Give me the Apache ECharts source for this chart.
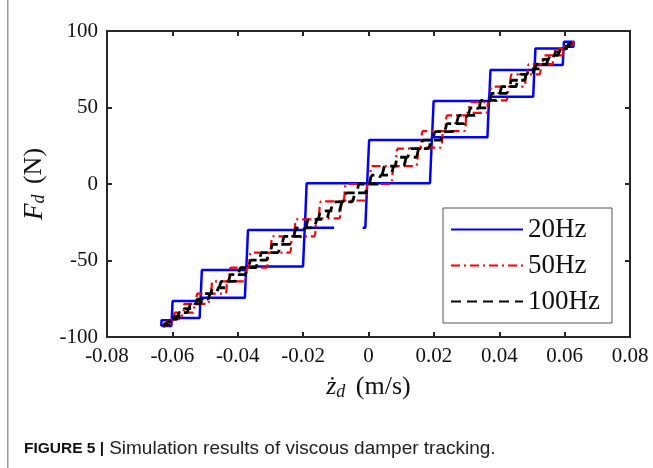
<!DOCTYPE html>
<html><head><meta charset="utf-8">
<script src="https://cdn.jsdelivr.net/npm/echarts@6/dist/echarts.min.js"></script>
<style>html,body{margin:0;padding:0;background:#fff}#c{width:653px;height:468px}</style>
</head><body><div id="c"></div>
<script>
// ---- data ----
const seriesNames = ['20Hz', '50Hz', '100Hz'];
const xRange = [-0.08, 0.08];
const yRange = [-100, 100];

// 20Hz: velocity breakpoints (m/s), force held on upper (rising) and lower (falling) branch (N)
const blueV = [-0.0634, -0.0602, -0.0514, -0.0374, -0.0195, -0.0004, 0.0194, 0.0369, 0.0508, 0.0597, 0.0628];
const blueUpper = [-89, -76.5, -56.2, -30, 0.5, 28.8, 54.2, 74.5, 88.6, 93];
const blueLower = [-92.8, -87.6, -74.3, -54, -28.6, 0.5, 30.5, 57, 77.8, 89.7];
const blueGap = [-0.0105, -0.0018];

// 50Hz
const redV = [-0.0628, -0.0627, -0.0617, -0.0597, -0.0568, -0.0530, -0.0484, -0.0430, -0.0369, -0.0303, -0.0231, -0.0156, -0.0079, 0,
  0.0079, 0.0156, 0.0231, 0.0303, 0.0369, 0.0430, 0.0484, 0.0530, 0.0568, 0.0597, 0.0617, 0.0627, 0.0628];
const redUpper = [-92.8, -91.3, -88.4, -84.1, -78.4, -71.6, -63.6, -54.6, -44.8, -34.2, -23.1, -11.4, 0,
  11.7, 23.1, 34.6, 44.8, 53.5, 63.6, 71.6, 78.4, 84.1, 88.4, 91.3, 92.8, 92.9];
const redLower = [-92.9, -92.8, -91.3, -88.4, -84.1, -78.4, -71.6, -63.6, -54.6, -44.8, -34.2, -22.5, -10.8,
  0, 11.7, 23.8, 34.6, 46.5, 54.6, 63.6, 71.6, 78.4, 84.1, 88.4, 91.3, 92.8];

// 100Hz
const blackV = [-0.0628, -0.0627, -0.0623, -0.0617, -0.0608, -0.0597, -0.0584, -0.0568, -0.0550, -0.0530, -0.0508, -0.0484, -0.0458,
  -0.0430, -0.0400, -0.0369, -0.0336, -0.0303, -0.0267, -0.0231, -0.0194, -0.0156, -0.0118, -0.0079, -0.0039, 0,
  0.0039, 0.0079, 0.0118, 0.0156, 0.0194, 0.0231, 0.0267, 0.0303, 0.0336, 0.0369, 0.0400, 0.0430, 0.0458, 0.0484,
  0.0508, 0.0530, 0.0550, 0.0568, 0.0584, 0.0597, 0.0608, 0.0617, 0.0623, 0.0627, 0.0628];
const blackUpper = [-92.8, -92.2, -91.3, -90.0, -88.4, -86.4, -84.1, -81.4, -78.4, -75.2, -71.6, -67.8, -63.6, -59.2,
  -54.6, -49.7, -44.8, -39.5, -34.2, -28.7, -23.1, -17.5, -11.7, -5.8, 0, 5.8, 11.7, 17.5, 23.1, 28.7, 34.2, 39.5,
  44.8, 49.7, 54.6, 59.2, 63.6, 67.8, 71.6, 75.2, 78.4, 81.4, 84.1, 86.4, 88.4, 90.0, 91.3, 92.2, 92.8, 92.9];
const blackLower = [-92.9, -92.8, -92.2, -91.3, -90.0, -88.4, -86.4, -84.1, -81.4, -78.4, -75.2, -71.6, -67.8, -63.6,
  -59.2, -54.6, -49.7, -44.8, -39.5, -34.2, -28.7, -23.1, -17.5, -11.7, -5.8, 0, 5.8, 11.7, 17.5, 23.1, 28.7, 34.2,
  39.5, 44.8, 49.7, 54.6, 59.2, 63.6, 67.8, 71.6, 75.2, 78.4, 81.4, 84.1, 86.4, 88.4, 90.0, 91.3, 92.2, 92.8];

// ---- build closed hysteresis loops; each force change ramps over a fraction 'lag' of the hold interval ----
function loop(v, up, lo, lag, gap) {
  const n = v.length, pts = [];
  for (let i = 0; i < n - 1; i++) {
    const prev = i === 0 ? lo[0] : up[i - 1];
    pts.push([v[i], prev]);
    pts.push([v[i] + lag * (v[i + 1] - v[i]), up[i]]);
  }
  for (let i = n - 2; i >= 0; i--) {
    const prev = i === n - 2 ? up[n - 2] : lo[i + 1];
    pts.push([v[i + 1], prev]);
    pts.push([v[i + 1] - lag * (v[i + 1] - v[i]), lo[i]]);
    if (gap && v[i + 1] > gap[1] && v[i] < gap[0]) {
      pts.push([gap[1], lo[i]]);
      pts.push(['-', '-']);
      pts.push([gap[0], lo[i]]);
    }
  }
  pts.push([v[0], lo[0]]);
  return pts;
}

const serif = "'Liberation Serif','Times New Roman',serif";
const sans = "'Liberation Sans',Arial,sans-serif";
const axisColor = '#262626';

function mkX(pos, showLabel) {
  return {
    type: 'value', position: pos, min: xRange[0], max: xRange[1], interval: 0.02,
    axisLine: { show: true, onZero: false, lineStyle: { color: axisColor, width: 2 } },
    axisTick: { show: true, inside: true, length: 5, lineStyle: { color: axisColor, width: 2 } },
    splitLine: { show: false },
    axisLabel: { show: showLabel, margin: 9, fontFamily: serif, fontSize: 21, color: '#111' },
    name: showLabel ? '{i|ż}{s|d} (m/s)' : '',
    nameLocation: 'middle', nameGap: 36,
    nameTextStyle: {
      fontFamily: serif, fontSize: 26, color: '#111',
      rich: {
        i: { fontFamily: serif, fontStyle: 'italic', fontSize: 26, color: '#111' },
        s: { fontFamily: serif, fontStyle: 'italic', fontSize: 18, color: '#111', verticalAlign: 'bottom', padding: [10, 4, 0, 0] }
      }
    }
  };
}
function mkY(pos, showLabel) {
  return {
    type: 'value', position: pos, min: yRange[0], max: yRange[1], interval: 50,
    axisLine: { show: true, onZero: false, lineStyle: { color: axisColor, width: 2 } },
    axisTick: { show: true, inside: true, length: 5, lineStyle: { color: axisColor, width: 2 } },
    splitLine: { show: false },
    axisLabel: { show: showLabel, margin: 9, fontFamily: serif, fontSize: 21, color: '#111' },
    name: showLabel ? '{i|F}{s|d} (N)' : '',
    nameLocation: 'middle', nameGap: 52,
    nameTextStyle: {
      fontFamily: serif, fontSize: 26, color: '#111',
      rich: {
        i: { fontFamily: serif, fontStyle: 'italic', fontSize: 27, color: '#111' },
        s: { fontFamily: serif, fontStyle: 'italic', fontSize: 18, color: '#111', verticalAlign: 'bottom', padding: [10, 4, 0, 0] }
      }
    }
  };
}

const chart = echarts.init(document.getElementById('c'), null, { renderer: 'canvas' });
chart.setOption({
  animation: false,
  backgroundColor: '#fff',
  grid: { left: 107, right: 23, top: 31, bottom: 131, containLabel: false },
  xAxis: [mkX('bottom', true), mkX('top', false)],
  yAxis: [mkY('left', true), mkY('right', false)],
  legend: {
    data: seriesNames, orient: 'vertical', left: 443, top: 208,
    padding: [8, 12, 8, 7], itemWidth: 72, itemHeight: 26, itemGap: 9,
    backgroundColor: '#fff', borderColor: '#555', borderWidth: 1, borderRadius: 0,
    itemStyle: { opacity: 0 },
    textStyle: { fontFamily: serif, fontSize: 27, color: '#111' }
  },
  title: {
    left: 19, top: 434,
    text: '{b|FIGURE 5 |} {r|Simulation results of viscous damper tracking.}',
    textStyle: {
      fontWeight: 'normal',
      rich: {
        b: { fontFamily: sans, fontWeight: 'bold', fontSize: 15.5, color: '#111' },
        r: { fontFamily: sans, fontWeight: 'normal', fontSize: 19, color: '#222' }
      }
    }
  },
  graphic: [{
    type: 'rect', left: 7, top: 0, shape: { width: 1.5, height: 468 }, style: { fill: '#9a9a9a' }, silent: true
  }],
  series: [
    { name: seriesNames[0], type: 'line', symbol: 'none', connectNulls: false,
      data: loop(blueV, blueUpper, blueLower, 0.03, blueGap),
      lineStyle: { color: '#0000ff', width: 2.5 }, itemStyle: { color: '#0000ff' } },
    { name: seriesNames[1], type: 'line', symbol: 'none', smooth: 0.25,
      data: loop(redV, redUpper, redLower, 0.15),
      lineStyle: { color: '#ff0000', width: 2.2, type: [9, 4, 2, 4] }, itemStyle: { color: '#ff0000' } },
    { name: seriesNames[2], type: 'line', symbol: 'none', smooth: 0.3,
      data: loop(blackV, blackUpper, blackLower, 0.3),
      lineStyle: { color: '#000000', width: 2.8, type: [10, 6] }, itemStyle: { color: '#000000' } }
  ]
});
</script></body></html>
